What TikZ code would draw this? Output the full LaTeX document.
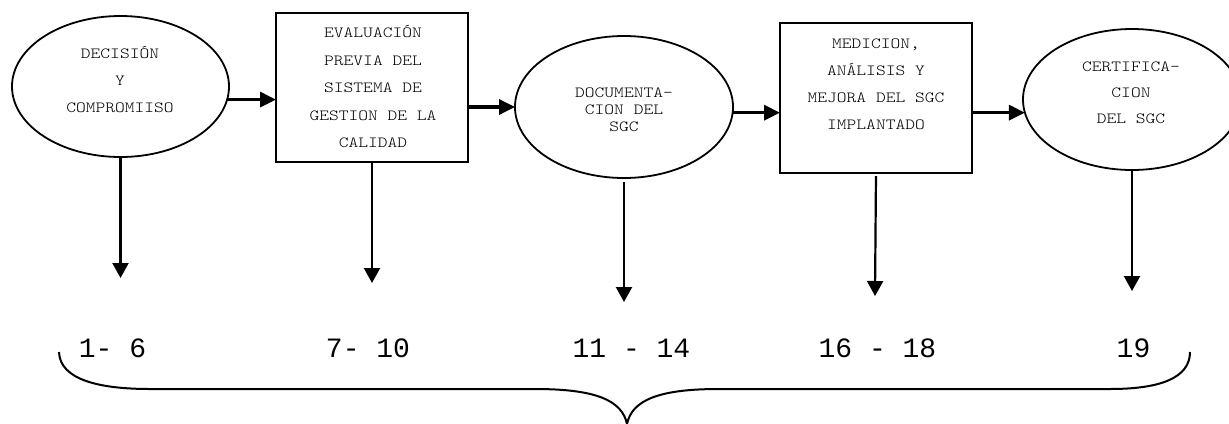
\documentclass[tikz,border=0pt]{standalone}
\usepackage{fontspec}
\newfontfamily\mono{Liberation Mono}
\newfontfamily\cour[FakeStretch=1.2]{lmmonolt10-regular.otf}
\usetikzlibrary{shapes.geometric,arrows.meta}
\begin{document}
\begin{tikzpicture}[x=1bp,y=-1bp,
  ell/.style={draw,ellipse,line width=1.8bp,inner sep=0,outer sep=0,
    minimum width=217bp,minimum height=141bp},
  stagebox/.style={draw,rectangle,line width=2.4bp,inner sep=0,outer sep=0,
    minimum width=192bp,minimum height=149bp},
  txt/.style={align=center,inner sep=0,font=\cour\fontsize{15.5bp}{27bp}\selectfont},
  tighttxt/.style={align=center,inner sep=0,font=\cour\fontsize{15.5bp}{17bp}\selectfont},
  flow/.style={line width=3.4bp,-{Triangle[length=16bp,width=15bp]}},
  down/.style={line width=2.2bp,-{Triangle[length=15bp,width=16bp]}},
  num/.style={inner sep=0,anchor=base,font=\mono\fontsize{28bp}{30bp}\selectfont},
  brace/.style={line width=2bp},
]
\useasboundingbox (0,0) rectangle (1229,423);
\clip (0,0) rectangle (1229,423);

% stages
\node[ell] (e1) at (120.5,86.5) {};
\node[txt] (e1t) at (120,79.5) {DECISIÓN\\Y\\COMPROMIISO};

\node[stagebox] (b2) at (372,87.5) {};
\node[txt,font=\cour\fontsize{15.5bp}{27.5bp}\selectfont] (b2t) at (373,86.5)
  {EVALUACIÓN\\PREVIA DEL\\SISTEMA DE\\GESTION DE LA\\CALIDAD};

\node[ell,minimum width=218bp,minimum height=142bp] (e3) at (624,107) {};
\node[tighttxt] (e3t) at (624,109.5) {DOCUMENTA-\\CION DEL\\SGC};

\node[stagebox,minimum height=150bp] (b4) at (876,98) {};
\node[txt] (b4t) at (876,84) {MEDICION,\\ANÁLISIS Y\\MEJORA DEL SGC\\IMPLANTADO};

\node[ell,minimum width=218bp,minimum height=141bp] (e5) at (1132,99.5) {};
\node[txt,font=\cour\fontsize{15.5bp}{26bp}\selectfont] (e5t) at (1131,92.5)
  {CERTIFICA-\\CION\\DEL SGC};

% flow between stages
\draw[flow] (e1.-7) -- (e1.-7 -| b2.west);
\draw[flow] (b2.east |- e3.west) -- (e3.west);
\draw[flow] (e3.-3) -- (e3.-3 -| b4.west);
\draw[flow] (b4.east |- e5.187) -- (e5.187);

% arrows down to the chapter ranges
\coordinate (t1) at (120.5,278);
\coordinate (t2) at (372,283);
\coordinate (t3) at (624,302);
\coordinate (t4) at (875,296);
\coordinate (t5) at (1132,291);
\draw[down] (e1.south) -- (t1);
\draw[down] (b2.south) -- (t2);
\draw[down,shorten <=4bp] (e3.south) -- (t3);
\draw[down,shorten <=3bp] (b4.south) -- (t4);
\draw[down] (e5.south) -- (t5);

% chapter ranges
\node[num] (n1) at (112.5,357) {1- 6};
\node[num] (n2) at (368,357) {7- 10};
\node[num] (n3) at (631.5,357) {11 - 14};
\node[num] (n4) at (877.5,357) {16 - 18};
\node[num] (n5) at (1133.5,357) {19};

% brace grouping all ranges
\coordinate (bl) at (59,352);
\coordinate (br) at (1190,352);
\coordinate (tip) at (627,424);
\draw[brace] (bl) .. controls (60,380) and (100,389) .. (150,389)
  -- (535,389) .. controls (595,389) and (622,400) .. (tip)
  .. controls (632,400) and (659,389) .. (719,389)
  -- (1110,389) .. controls (1160,389) and (1190,378) .. (br);
\end{tikzpicture}
\end{document}
